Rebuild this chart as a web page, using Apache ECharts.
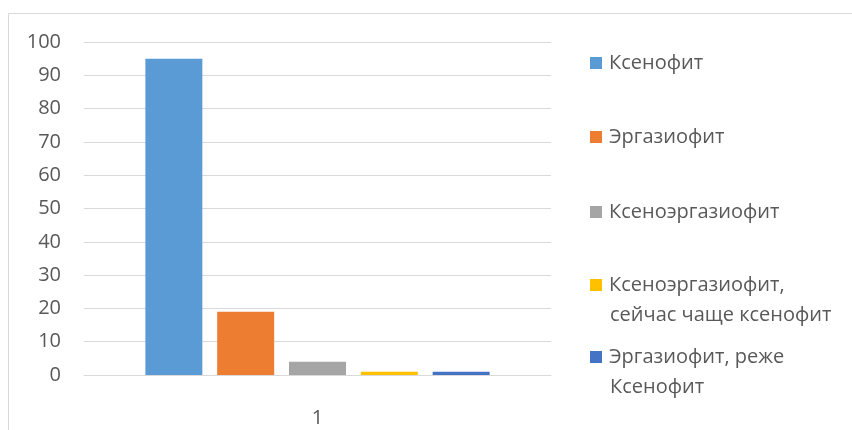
<!DOCTYPE html>
<html>
<head>
<meta charset="utf-8">
<script src="https://cdn.jsdelivr.net/npm/echarts@6/dist/echarts.min.js"></script>
<style>html,body{margin:0;padding:0;background:#fff}#c{width:852px;height:430px}</style>
</head>
<body>
<div id="c"></div>
<script>
const categories = ['1'];
const seriesNames = ['Ксенофит', 'Эргазиофит', 'Ксеноэргазиофит', 'Ксеноэргазиофит, сейчас чаще ксенофит', 'Эргазиофит, реже Ксенофит'];
const legendFirstLines = ['Ксенофит', 'Эргазиофит', 'Ксеноэргазиофит', 'Ксеноэргазиофит,', 'Эргазиофит, реже'];
const legendSecondLines = ['', '', '', 'сейчас чаще ксенофит', 'Ксенофит'];
const ksenofit = [95];
const ergaziofit = [19];
const ksenoergaziofit = [4];
const ksenoergSeychas = [1];
const ergazRezhe = [1];
const yTicks = [0, 10, 20, 30, 40, 50, 60, 70, 80, 90, 100];
const colors = ['#5B9BD5', '#ED7D31', '#A5A5A5', '#FFC000', '#4472C4'];
const values = [ksenofit, ergaziofit, ksenoergaziofit, ksenoergSeychas, ergazRezhe];

const font = '"Open Sans", "Noto Sans", sans-serif';
const fs = 20;
const legendCenters = [63, 137, 212, 285, 357];
const legends = seriesNames.map((n, i) => ({
  data: [n],
  left: 590,
  top: legendCenters[i] - 11,
  padding: 0,
  itemWidth: 12,
  itemHeight: 12,
  icon: 'rect',
  selectedMode: false,
  formatter: () => legendFirstLines[i],
  textStyle: { fontFamily: font, fontSize: fs, color: '#595959', lineHeight: 22, padding: [0, 0, 0, 2] }
}));
const secondLines = [];
legendSecondLines.forEach((t, i) => {
  if (t) secondLines.push({
    type: 'text', left: 610, top: legendCenters[i] + 30 - 11, silent: true,
    style: { text: t, fontFamily: font, fontSize: fs, fill: '#595959', lineHeight: 22 }
  });
});

const chart = echarts.init(document.getElementById('c'));
chart.setOption({
  animation: false,
  color: colors,
  graphic: [{
    type: 'rect',
    shape: { x: 8.5, y: 13.5, width: 1000, height: 1000 },
    style: { fill: 'none', stroke: '#d9d9d9', lineWidth: 1 },
    silent: true
  }].concat(secondLines),
  legend: legends,
  grid: { left: 84, right: 301, top: 42, bottom: 55, containLabel: false },
  xAxis: {
    type: 'category',
    data: categories,
    axisLine: { lineStyle: { color: '#d9d9d9', width: 1 } },
    axisTick: { show: false },
    axisLabel: { fontFamily: font, fontSize: fs, color: '#595959', margin: 33 }
  },
  yAxis: {
    type: 'value',
    min: yTicks[0],
    max: yTicks[yTicks.length - 1],
    interval: 10,
    axisLine: { show: false },
    axisTick: { show: false },
    splitLine: { lineStyle: { color: '#d9d9d9', width: 1 } },
    axisLabel: { fontFamily: font, fontSize: fs, color: '#595959', margin: 23 }
  },
  series: seriesNames.map((n, i) => ({
    type: 'bar',
    name: n,
    data: values[i],
    barWidth: 57,
    barGap: '26%',
    itemStyle: { color: colors[i] }
  }))
});
</script>
</body>
</html>
